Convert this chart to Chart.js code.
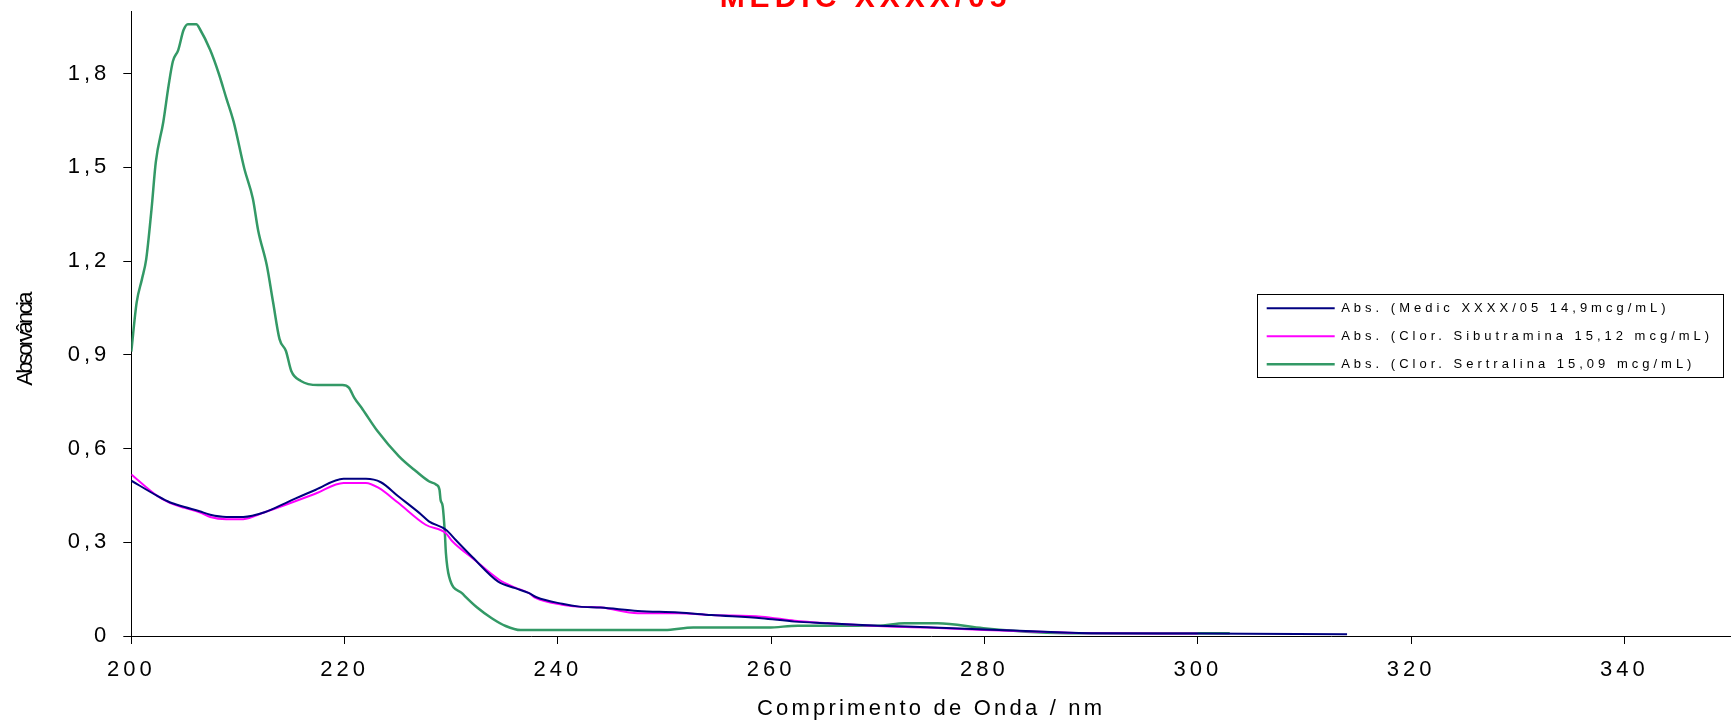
<!DOCTYPE html>
<html>
<head>
<meta charset="utf-8">
<title>MEDIC XXXX/05</title>
<script src="https://cdn.jsdelivr.net/npm/chart.js@4.4.1/dist/chart.umd.min.js"></script>
<style>
  html, body { margin: 0; padding: 0; background: #fff; overflow: hidden; }
  #wrap { position: absolute; left: 0; top: -40px; width: 1731px; height: 764px; }
</style>
</head>
<body>
<div id="wrap"><canvas id="absChart" width="1731" height="764"></canvas></div>
<script>
// chart texts
const chartTitle = "MEDIC XXXX/05";
const xAxisTitle = "Comprimento de Onda / nm";
const yAxisTitle = "Absorvância";
const seriesNames = [
    "Abs. (Medic XXXX/05 14,9mcg/mL)",
    "Abs. (Clor. Sibutramina 15,12 mcg/mL)",
    "Abs. (Clor. Sertralina 15,09 mcg/mL)"
];

// axis ranges
const xMin = 200, xMax = 350, xStep = 20;
const yMin = 0, yMax = 2.0, yStep = 0.3;

// Medic XXXX/05
const medicNm = [200, 202.4, 203.6, 205, 206.4, 207.4, 208.9, 210.5, 212.5, 214.8, 217.3, 219.9, 222.0, 223.4, 225, 227.0, 227.9, 229.5, 230.4, 232, 234.4, 236, 237.3, 238, 240.4, 242, 244, 247.5, 251.3, 254.4, 259.1, 262.2, 265.3, 270, 274.6, 280, 287.4, 290, 300, 314];
const medicAbs = [0.497, 0.449, 0.428, 0.413, 0.399, 0.388, 0.381, 0.381, 0.396, 0.431, 0.468, 0.503, 0.503, 0.492, 0.448, 0.394, 0.367, 0.340, 0.308, 0.252, 0.174, 0.153, 0.137, 0.124, 0.103, 0.094, 0.091, 0.080, 0.075, 0.067, 0.057, 0.046, 0.041, 0.033, 0.028, 0.021, 0.011, 0.009, 0.008, 0.006];

// Clor. Sibutramina
const sibutNm = [200, 202.4, 203.6, 205, 206.4, 207.4, 208.9, 210.5, 212.5, 214.8, 217.3, 219.9, 222.0, 223.2, 225, 227.6, 229.5, 230.1, 232, 234.5, 236, 237.3, 237.9, 240.4, 241.9, 244.1, 247.5, 251.3, 254.4, 259.1, 262.2, 265.3, 270, 274.6, 280, 287.4, 290, 300];
const sibutAbs = [0.517, 0.449, 0.426, 0.410, 0.396, 0.381, 0.374, 0.374, 0.396, 0.424, 0.456, 0.490, 0.490, 0.474, 0.427, 0.356, 0.329, 0.303, 0.249, 0.180, 0.155, 0.137, 0.122, 0.100, 0.094, 0.091, 0.073, 0.073, 0.067, 0.062, 0.049, 0.041, 0.032, 0.027, 0.019, 0.011, 0.009, 0.008];

// Clor. Sertralina
const sertNm = [200, 200.5, 201, 201.4, 201.9, 202.3, 203, 203.5, 203.9, 204.4, 204.9, 205.3, 206.1, 206.4, 207.4, 208.2, 208.9, 209.6, 210.6, 211.4, 211.9, 212.7, 213.3, 213.9, 214.5, 215, 215.9, 217.5, 219.8, 220.4, 220.9, 221.7, 223.1, 225.1, 226.7, 227.9, 228.6, 228.9, 229.0, 229.2, 229.4, 229.5, 229.8, 231, 232.4, 233.8, 235.1, 236.5, 250, 252.7, 259.7, 262.5, 270, 272.5, 275.6, 279.9, 284.9, 289, 303];
const sertAbs = [0.91, 1.067, 1.142, 1.206, 1.367, 1.517, 1.645, 1.762, 1.839, 1.875, 1.939, 1.958, 1.958, 1.944, 1.875, 1.8, 1.722, 1.645, 1.495, 1.399, 1.297, 1.187, 1.067, 0.95, 0.912, 0.848, 0.816, 0.803, 0.803, 0.795, 0.763, 0.725, 0.655, 0.575, 0.527, 0.495, 0.484, 0.468, 0.436, 0.415, 0.33, 0.265, 0.19, 0.137, 0.092, 0.057, 0.032, 0.019, 0.019, 0.027, 0.027, 0.033, 0.033, 0.041, 0.041, 0.025, 0.012, 0.009, 0.009];

const seriesColors = ["#000080", "#ff00ff", "#339966"];

function toPoints(xs, ys) {
    return xs.map((x, i) => ({ x: x, y: ys[i] }));
}

// run one drawing method of a chart element with its own letter spacing
function spaced(target, method, spacing) {
    if (!target || target["_spaced_" + method]) return;
    const orig = target[method];
    target[method] = function () {
        const ctx = this.ctx;
        ctx.save();
        ctx.letterSpacing = spacing;
        orig.apply(this, arguments);
        ctx.restore();
    };
    target["_spaced_" + method] = true;
}

// Excel-like spaced lettering for ticks and legend
const spacingPlugin = {
    id: "spacing",
    afterLayout(chart) {
        spaced(chart.titleBlock, "draw", "5px");
        spaced(chart.scales.x, "drawTitle", "3.2px");
    },
    beforeDraw(chart) {
        chart.ctx.letterSpacing = "4px";
    }
};

// put the legend inside the plot on the right and frame it
const legendBoxPlugin = {
    id: "legendBox",
    afterLayout(chart) {
        let lg = chart.legend;
        lg.left = 1251.7;
        lg.top = 326.8;
        lg.width = 480;
        lg.height = 100;
        lg.right = lg.left + lg.width;
        lg.bottom = lg.top + lg.height;
    },
    afterDraw(chart) {
        let ctx = chart.ctx;
        let lg = chart.legend;
        ctx.save();
        ctx.strokeStyle = "#000";
        ctx.lineWidth = 1;
        ctx.strokeRect(Math.round(lg.left + 5) + 0.5, Math.round(lg.top + 7.5) + 0.5, 466, 83);
        ctx.restore();
    }
};

// condensed vertical axis title
const yTitlePlugin = {
    id: "yTitle",
    afterDraw(chart) {
        let ctx = chart.ctx;
        ctx.save();
        ctx.letterSpacing = "-2.7px";
        ctx.font = "22px 'Liberation Sans', Arial, sans-serif";
        ctx.fillStyle = "#000";
        ctx.textAlign = "center";
        ctx.textBaseline = "middle";
        ctx.translate(26.4, 380);
        ctx.rotate(-Math.PI / 2);
        ctx.fillText(yAxisTitle, 0, 0);
        ctx.restore();
    }
};

Chart.defaults.font.family = "'Liberation Sans', Arial, sans-serif";
Chart.defaults.color = "#000";

let axisGrid = { display: true, drawOnChartArea: false, drawTicks: true, tickLength: 8, color: "#000", lineWidth: 1 };
let axisBorder = { display: true, color: "#000", width: 1 };

new Chart(document.getElementById("absChart").getContext("2d"), {
    type: "line",
    data: {
        datasets: [
            { label: seriesNames[0], data: toPoints(medicNm, medicAbs), borderColor: seriesColors[0], backgroundColor: seriesColors[0], borderWidth: 2, pointRadius: 0, fill: false, cubicInterpolationMode: "monotone" },
            { label: seriesNames[1], data: toPoints(sibutNm, sibutAbs), borderColor: seriesColors[1], backgroundColor: seriesColors[1], borderWidth: 2, pointRadius: 0, fill: false, cubicInterpolationMode: "monotone" },
            { label: seriesNames[2], data: toPoints(sertNm, sertAbs), borderColor: seriesColors[2], backgroundColor: seriesColors[2], borderWidth: 2.5, pointRadius: 0, fill: false, cubicInterpolationMode: "monotone" }
        ]
    },
    options: {
        responsive: false,
        animation: false,
        devicePixelRatio: 1,
        layout: { padding: 0 },
        plugins: {
            title: {
                display: true,
                text: chartTitle,
                color: "#ff0000",
                font: { size: 30, weight: "bold", lineHeight: 0.9 },
                padding: { top: 25.5, bottom: -1.5 }
            },
            legend: {
                position: "chartArea",
                align: "start",
                labels: {
                    usePointStyle: true,
                    pointStyle: "line",
                    pointStyleWidth: 68,
                    padding: 15,
                    color: "#000",
                    font: { size: 13 }
                }
            },
            tooltip: { enabled: false }
        },
        scales: {
            x: {
                type: "linear",
                min: xMin,
                max: xMax,
                afterFit(scale) { scale.height = 88; },
                ticks: { stepSize: xStep, includeBounds: false, padding: 13, maxRotation: 0, autoSkip: false, color: "#000", font: { size: 22 } },
                grid: axisGrid,
                border: axisBorder,
                title: { display: true, text: xAxisTitle, color: "#000", font: { size: 22 }, padding: { top: 0, bottom: 1.8 } }
            },
            y: {
                type: "linear",
                min: yMin,
                max: yMax,
                afterFit(scale) { scale.width = 131.3; },
                ticks: {
                    stepSize: yStep,
                    includeBounds: false,
                    padding: 13,
                    color: "#000",
                    font: { size: 22 },
                    callback: v => v === 0 ? "0" : v.toFixed(1).replace(".", ",")
                },
                grid: axisGrid,
                border: axisBorder
            }
        }
    },
    plugins: [spacingPlugin, legendBoxPlugin, yTitlePlugin]
});
</script>
</body>
</html>
